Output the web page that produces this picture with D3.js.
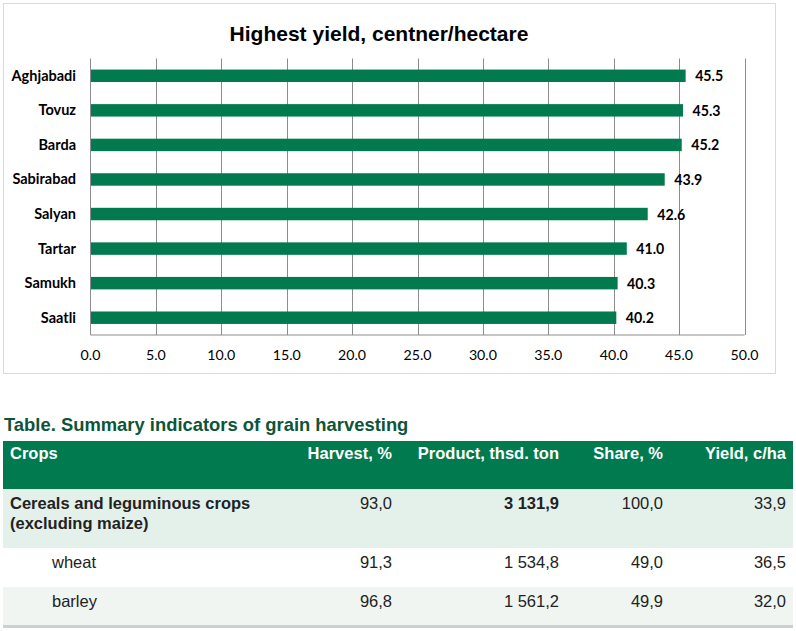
<!DOCTYPE html>
<html>
<head>
<meta charset="utf-8">
<script src="https://cdn.jsdelivr.net/npm/d3@7"></script>
<style>
  body { margin: 0; background: #fff; }
  svg { display: block; }
</style>
</head>
<body>
<svg id="chart" width="796" height="631"></svg>
<script>
// chart data
const regions = ["Aghjabadi", "Tovuz", "Barda", "Sabirabad", "Salyan", "Tartar", "Samukh", "Saatli"];
const yields = [45.5, 45.3, 45.2, 43.9, 42.6, 41.0, 40.3, 40.2];
const xTicks = [0, 5, 10, 15, 20, 25, 30, 35, 40, 45, 50];

// table data
const columns = ["Crops", "Harvest, %", "Product, thsd. ton", "Share, %", "Yield, c/ha"];
const crops = [["Cereals and leguminous crops", "(excluding maize)"], ["wheat"], ["barley"]];
const harvest = ["93,0", "91,3", "96,8"];
const product = ["3 131,9", "1 534,8", "1 561,2"];
const share = ["100,0", "49,0", "49,9"];
const yieldCha = ["33,9", "36,5", "32,0"];

const svg = d3.select("#chart");
const green = "#007a4e";
const labelFont = "Lato, 'Open Sans', sans-serif";
const tableFont = "'Liberation Sans', Arial, sans-serif";

// chart frame
svg.append("rect")
  .attr("x", 3.5).attr("y", 3.5)
  .attr("width", 772).attr("height", 370)
  .attr("fill", "#fff")
  .attr("stroke", "#d9d9d9");

svg.append("text")
  .attr("x", 379).attr("y", 41)
  .attr("text-anchor", "middle")
  .attr("font-family", tableFont)
  .attr("font-weight", "bold")
  .attr("font-size", 21)
  .attr("fill", "#000")
  .text("Highest yield, centner/hectare");

let margin = { top: 58.5, bottom: 335, left: 90.5, right: 744.5 };

let x = d3.scaleLinear()
  .domain([0, 50])
  .range([margin.left, margin.right]);
let y = d3.scaleBand()
  .domain(regions)
  .range([margin.top, margin.bottom])
  .paddingInner(0.64)
  .paddingOuter(0.32);

// vertical gridlines
svg.append("g")
  .selectAll("line")
  .data(xTicks.slice(1))
  .enter()
    .append("line")
    .attr("x1", d => Math.round(x(d)) + 0.5)
    .attr("x2", d => Math.round(x(d)) + 0.5)
    .attr("y1", margin.top)
    .attr("y2", margin.bottom)
    .attr("stroke", "#8c8c8c")
    .attr("stroke-width", 1);

// bars
svg.append("g")
  .selectAll("rect")
  .data(yields)
  .enter()
    .append("rect")
    .attr("x", x(0))
    .attr("y", (d, i) => y(regions[i]))
    .attr("width", d => x(d) - x(0))
    .attr("height", y.bandwidth())
    .attr("fill", green);

// axes lines
svg.append("line")
  .attr("x1", x(0)).attr("x2", x(0))
  .attr("y1", margin.top).attr("y2", margin.bottom)
  .attr("stroke", "#8c8c8c");
svg.append("line")
  .attr("x1", x(0)).attr("x2", x(50))
  .attr("y1", margin.bottom).attr("y2", margin.bottom)
  .attr("stroke", "#8c8c8c");

// category labels
svg.append("g")
  .selectAll("text")
  .data(regions)
  .enter()
    .append("text")
    .attr("x", 76)
    .attr("y", d => y(d) + y.bandwidth() / 2 + 5)
    .attr("text-anchor", "end")
    .attr("font-family", labelFont)
    .attr("font-weight", "bold")
    .attr("font-size", 14.5)
    .attr("fill", "#000")
    .text(d => d);

// value labels
svg.append("g")
  .selectAll("text")
  .data(yields)
  .enter()
    .append("text")
    .attr("x", d => x(d) + 9.5)
    .attr("y", (d, i) => y(regions[i]) + y.bandwidth() / 2 + 5.5)
    .attr("font-family", labelFont)
    .attr("font-weight", "bold")
    .attr("font-size", 14.2)
    .attr("fill", "#000")
    .text(d => d.toFixed(1));

// x tick labels
svg.append("g")
  .selectAll("text")
  .data(xTicks)
  .enter()
    .append("text")
    .attr("x", d => x(d))
    .attr("y", 360)
    .attr("text-anchor", "middle")
    .attr("font-family", labelFont)
    .attr("font-size", 14.2)
    .attr("fill", "#000")
    .text(d => d.toFixed(1));

// ---- table ----
svg.append("text")
  .attr("x", 4).attr("y", 431)
  .attr("font-family", tableFont)
  .attr("font-weight", "bold")
  .attr("font-size", 18.4)
  .attr("fill", "#0d5538")
  .text("Table. Summary indicators of grain harvesting");

let tableLeft = 3, tableRight = 793;
let colRight = [null, 392, 559, 663, 786];
let rowTops = [489, 548, 587];
let rowBottoms = [548, 587, 625];
let rowFills = ["#e4f1ea", "#ffffff", "#f0f5f2"];

svg.append("rect")
  .attr("x", tableLeft).attr("y", 441)
  .attr("width", tableRight - tableLeft).attr("height", 48)
  .attr("fill", green);

svg.append("g")
  .selectAll("text")
  .data(columns)
  .enter()
    .append("text")
    .attr("x", (d, i) => i === 0 ? 10 : colRight[i])
    .attr("y", 459)
    .attr("text-anchor", (d, i) => i === 0 ? "start" : "end")
    .attr("font-family", tableFont)
    .attr("font-weight", "bold")
    .attr("font-size", 16.5)
    .attr("fill", "#fff")
    .text(d => d);

let rows = svg.append("g")
  .selectAll("g")
  .data(crops)
  .enter()
    .append("g");

rows.append("rect")
  .attr("x", tableLeft)
  .attr("y", (d, i) => rowTops[i])
  .attr("width", tableRight - tableLeft)
  .attr("height", (d, i) => rowBottoms[i] - rowTops[i])
  .attr("fill", (d, i) => rowFills[i]);

rows.each(function(lines, i) {
  let g = d3.select(this);
  let base = rowTops[i] + 19.5;
  lines.forEach((t, k) => {
    g.append("text")
      .attr("x", i === 0 ? 10 : 52)
      .attr("y", base + k * 20)
      .attr("font-family", tableFont)
      .attr("font-weight", i === 0 ? "bold" : "normal")
      .attr("font-size", 16.5)
      .attr("fill", "#222")
      .text(t);
  });
  [harvest[i], product[i], share[i], yieldCha[i]].forEach((v, c) => {
    g.append("text")
      .attr("x", colRight[c + 1])
      .attr("y", base)
      .attr("text-anchor", "end")
      .attr("font-family", tableFont)
      .attr("font-weight", i === 0 && c === 1 ? "bold" : "normal")
      .attr("font-size", 16.5)
      .attr("fill", "#222")
      .text(v);
  });
});

svg.append("rect")
  .attr("x", tableLeft).attr("y", 625)
  .attr("width", tableRight - tableLeft).attr("height", 3)
  .attr("fill", "#c9d3ce");
</script>
</body>
</html>
